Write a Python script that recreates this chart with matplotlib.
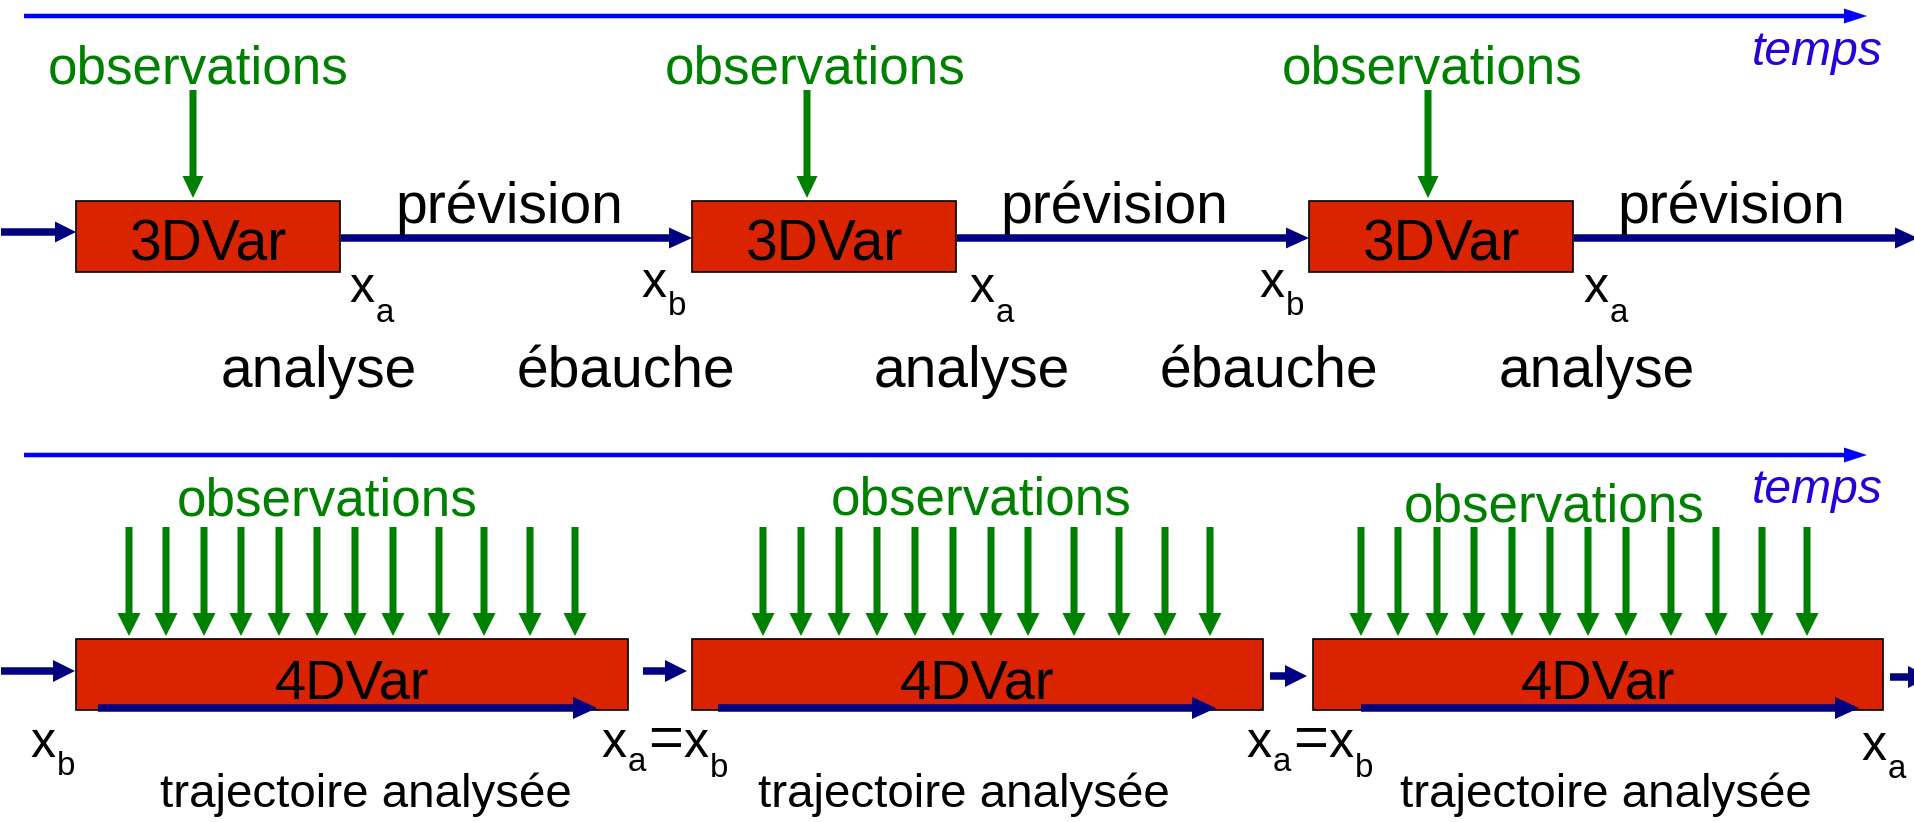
"""3DVar vs 4DVar assimilation cycles diagram."""

import matplotlib
matplotlib.use("Agg")
import matplotlib.pyplot as plt
from matplotlib.patches import FancyArrow, Rectangle

# --- labels ---
time_label = "temps"
obs_label = "observations"
box_labels = ["3DVar", "4DVar"]
forecast_label = "prévision"
top_below_labels = ["analyse", "ébauche", "analyse", "ébauche", "analyse"]
traj_label = "trajectoire analysée"
n_cycles = 3
n_obs_4d = 12

# --- layout (pixel coordinates, y grows downward) ---
W, H = 1915, 822
RED = "#DA2300"
NAVY = "#000080"
GREEN = "#008000"
BLUE = "#0000FF"
VIOLET = "#2800D8"
FONT = ["Liberation Sans", "DejaVu Sans"]

top_box_left = [76, 692, 1309]
top_box_w, top_box_top, top_box_h = 264, 201, 71
top_obs_x = [193, 807, 1428]
top_obs_text_x = [198, 815, 1432]
top_fc_text_x = [509, 1114, 1731]
top_below_x = [319, 626, 972, 1269, 1597]
top_xa_x = [349, 969, 1583]
top_xb_x = [641, 1259]

bot_box_left = [76, 692, 1313]
bot_box_right = [628, 1263, 1883]
bot_box_top, bot_box_h = 639, 71
bot_obs_x = [
    [129, 166, 204, 241, 279, 317, 355, 393, 439, 484, 530, 575],
    [763, 801, 839, 877, 915, 953, 991, 1028, 1074, 1119, 1165, 1210],
    [1361, 1398, 1437, 1474, 1512, 1550, 1588, 1626, 1671, 1716, 1762, 1807],
]
bot_obs_text_x = [327, 981, 1554]
bot_obs_text_y = [515, 514, 521]
bot_traj = [(98, 597), (718, 1216), (1361, 1859)]
bot_small_arrows = [(1, 75, 671), (643, 687, 671), (1270, 1307, 676), (1890, 1930, 677)]
bot_traj_text_x = [366, 964, 1606]
bot_eq_x = [601, 1246]

fig = plt.figure(figsize=(W / 100, H / 100), dpi=100)
ax = fig.add_axes([0, 0, 1, 1])
ax.set_xlim(0, W)
ax.set_ylim(H, 0)
ax.axis("off")


def px(size):
    # pixel em size -> points
    return size * 0.72


def arrow(x0, y0, x1, y1, color, width, head_w, head_l, z=3):
    ax.add_patch(FancyArrow(x0, y0, x1 - x0, y1 - y0, width=width, head_width=head_w,
                            head_length=head_l, length_includes_head=True,
                            color=color, lw=0, zorder=z))


def label(x, y, s, size, color="black", ha="center", style="normal"):
    ax.text(x, y, s, fontsize=px(size), color=color, ha=ha, va="baseline",
            family=FONT, style=style, zorder=5)


def xsub(x, y, sub, dy=20):
    label(x, y, "x", 50, ha="left")
    label(x + 27, y + dy, sub, 33, ha="left")


# --- time axes ---
for y_line, y_txt in [(16, 65), (455, 503)]:
    arrow(24, y_line, 1867, y_line, BLUE, 4.5, 15, 23)
    label(1817, y_txt, time_label, 48, color=VIOLET, style="italic")

# --- top row: 3DVar ---
for i in range(n_cycles):
    left = top_box_left[i]
    ax.add_patch(Rectangle((left, top_box_top), top_box_w, top_box_h, facecolor=RED,
                           edgecolor="black", lw=1.2, zorder=2))
    label(left + top_box_w / 2, 260, box_labels[0], 57)
    label(top_obs_text_x[i], 83, obs_label, 53, color=GREEN)
    arrow(top_obs_x[i], 90, top_obs_x[i], 198, GREEN, 7, 21, 22)
    label(top_fc_text_x[i], 223, forecast_label, 57)
    right = left + top_box_w
    end = top_box_left[i + 1] if i + 1 < n_cycles else 1918
    arrow(right + 1, 238, end, 238, NAVY, 7.5, 21, 23)
    xsub(top_xa_x[i], 302, "a")
arrow(1, 232, top_box_left[0], 232, NAVY, 7.5, 21, 21)
for xb in top_xb_x:
    xsub(xb, 297, "b", dy=18)
for x, s in zip(top_below_x, top_below_labels):
    label(x, 387, s, 57)

# --- bottom row: 4DVar ---
for i in range(n_cycles):
    left, right = bot_box_left[i], bot_box_right[i]
    ax.add_patch(Rectangle((left, bot_box_top), right - left, bot_box_h, facecolor=RED,
                           edgecolor="black", lw=1.2, zorder=2))
    label((left + right) / 2, 698, box_labels[1], 56)
    label(bot_obs_text_x[i], bot_obs_text_y[i], obs_label, 53, color=GREEN)
    for xo in bot_obs_x[i][:n_obs_4d]:
        arrow(xo, 527, xo, 636, GREEN, 7, 23, 23)
    t0, t1 = bot_traj[i]
    arrow(t0, 708, t1, 708, NAVY, 7.5, 22, 24, z=4)
    label(bot_traj_text_x[i], 807, traj_label, 47.5)
for x0, x1, y in bot_small_arrows:
    arrow(x0, y, x1, y, NAVY, 7.5, 22, 22)

xsub(30, 757, "b", dy=18)
for x in bot_eq_x:
    xsub(x, 757, "a", dy=14)
    label(x + 47, 757, "=", 60, ha="left")
    xsub(x + 82, 757, "b", dy=20)
xsub(1861, 760, "a", dy=18)

fig.savefig("out.png", dpi=100, facecolor="white")
